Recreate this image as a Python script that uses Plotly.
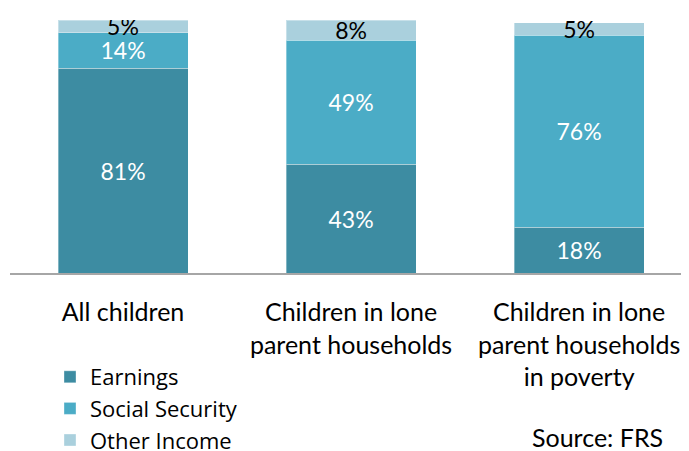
import plotly.graph_objects as go

categories = ["All children", "Children in lone<br>parent households", "Children in lone<br>parent households<br>in poverty"]
earnings = [81, 43, 18]
social_security = [14, 49, 76]
other_income = [5, 8, 5]
series_names = ["Earnings", "Social Security", "Other Income"]
colors = ["#3D8CA2", "#4BACC6", "#AAD0DD"]
label_colors = ["white", "white", "black"]

FONT = "Lato"
fig = go.Figure()
for name, vals, col, lc in zip(series_names, [earnings, social_security, other_income], colors, label_colors):
    fig.add_trace(go.Bar(
        x=categories, y=vals, name=name,
        marker=dict(color=col, line=dict(color="rgba(255,255,255,0.35)", width=1)),
        text=[f"{v}%" for v in vals], textposition="inside",
        insidetextanchor="middle", constraintext="none",
        textfont=dict(family=FONT, size=23, color=lc),
        hoverinfo="skip",
    ))

# page body has an 8px margin; figure coordinates below are relative to the figure
W, H = 681, 443
PLOT_TOP, PLOT_BOTTOM, PLOT_LEFT, PLOT_RIGHT = 12, 265.5, 2, 681

fig.update_layout(
    barmode="stack",
    bargap=0.43,
    width=W, height=H,
    margin=dict(l=PLOT_LEFT, r=W - PLOT_RIGHT, t=PLOT_TOP, b=H - PLOT_BOTTOM, autoexpand=False),
    plot_bgcolor="white", paper_bgcolor="white",
    font=dict(family=FONT, size=25, color="black"),
    showlegend=True,
    legend=dict(
        traceorder="normal",
        xref="container", yref="container",
        x=42/W, y=1 - 348/H, xanchor="left", yanchor="top",
        font=dict(family="Open Sans", size=22, color="black"),
        bgcolor="rgba(0,0,0,0)",
        itemclick=False,
    ),
    xaxis=dict(
        range=[-0.4956, 2.482],
        showline=True, linecolor="#A6A6A6", linewidth=2,
        ticks="", showgrid=False, tickangle=0, automargin=False,
        tickfont=dict(family=FONT, size=25, color="black"),
        ticklabelstandoff=16,
    ),
    yaxis=dict(range=[0, 100], visible=False),
    annotations=[dict(
        text="Source: FRS", xref="paper", yref="paper",
        x=(589.5 - PLOT_LEFT) / (PLOT_RIGHT - PLOT_LEFT),
        y=(PLOT_BOTTOM - 430) / (PLOT_BOTTOM - PLOT_TOP),
        xanchor="center", yanchor="middle",
        showarrow=False, font=dict(family=FONT, size=25, color="black"),
    )],
)

fig.write_html("out.html")
